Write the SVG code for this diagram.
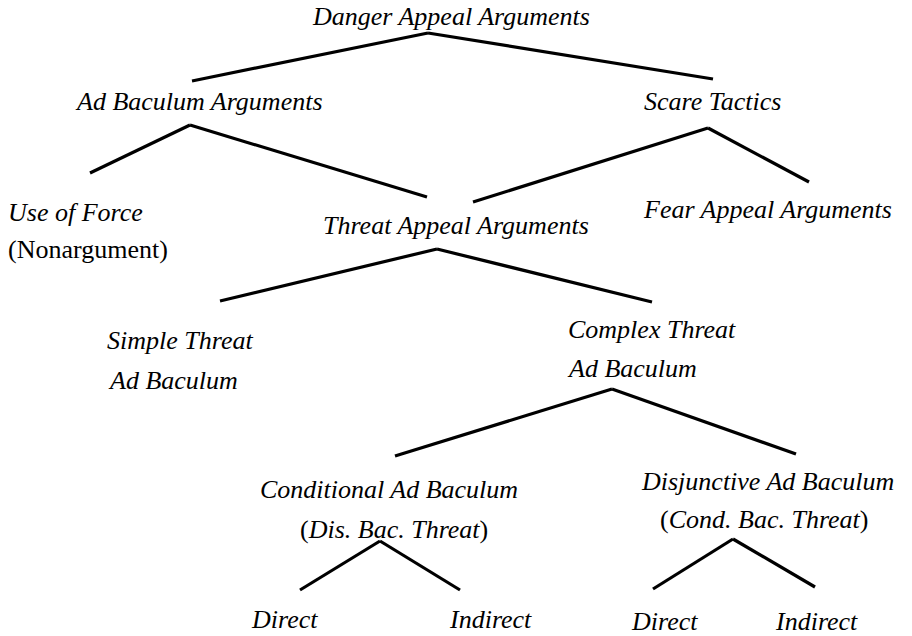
<svg xmlns="http://www.w3.org/2000/svg" width="912" height="636" viewBox="0 0 912 636">
<style>
text{font-family:"Liberation Serif","Times New Roman",serif;font-size:26px;font-style:italic;fill:#000}
.up{font-style:normal}
.e line{stroke:#000;stroke-width:3.2;stroke-linecap:butt}
</style>
<rect width="912" height="636" fill="#fff"/>
<g class="e" id="connectors">
<line x1="428" y1="33" x2="192" y2="81"/>
<line x1="428" y1="33" x2="713" y2="79"/>
<line x1="190" y1="125" x2="90" y2="173"/>
<line x1="190" y1="125" x2="427" y2="197"/>
<line x1="708" y1="128" x2="473" y2="202"/>
<line x1="708" y1="128" x2="809" y2="182"/>
<line x1="437" y1="249" x2="220" y2="301"/>
<line x1="437" y1="249" x2="652" y2="302"/>
<line x1="612" y1="389" x2="395" y2="456"/>
<line x1="612" y1="389" x2="796" y2="454"/>
<line x1="380" y1="541" x2="300" y2="590"/>
<line x1="380" y1="541" x2="460" y2="590"/>
<line x1="733" y1="539" x2="653" y2="589"/>
<line x1="733" y1="539" x2="815" y2="587"/>
</g>
<g id="danger"><text x="313" y="25">Danger Appeal Arguments</text></g>
<g id="adbaculum"><text x="77" y="110">Ad Baculum Arguments</text></g>
<g id="scare"><text x="644" y="110">Scare Tactics</text></g>
<g id="force"><text x="8" y="221">Use of Force</text><text class="up" x="8" y="258">(Nonargument)</text></g>
<g id="threat"><text x="323" y="234">Threat Appeal Arguments</text></g>
<g id="fear"><text x="644" y="218">Fear Appeal Arguments</text></g>
<g id="simple"><text x="107" y="349">Simple Threat</text><text x="110" y="389">Ad Baculum</text></g>
<g id="complex"><text x="568" y="338">Complex Threat</text><text x="569" y="377">Ad Baculum</text></g>
<g id="conditional"><text x="260" y="498">Conditional Ad Baculum</text><text x="300" y="538"><tspan class="up">(</tspan>Dis. Bac. Threat<tspan class="up">)</tspan></text></g>
<g id="disjunctive"><text x="642" y="490">Disjunctive Ad Baculum</text><text x="660" y="528"><tspan class="up">(</tspan>Cond. Bac. Threat<tspan class="up">)</tspan></text></g>
<g id="direct1"><text x="252" y="628">Direct</text></g>
<g id="indirect1"><text x="450" y="628">Indirect</text></g>
<g id="direct2"><text x="632" y="630">Direct</text></g>
<g id="indirect2"><text x="776" y="630">Indirect</text></g>
</svg>
